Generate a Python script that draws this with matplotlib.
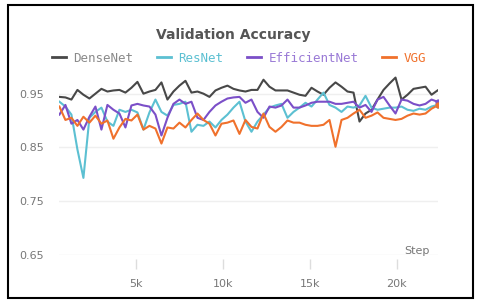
import matplotlib
matplotlib.use('Agg')
import matplotlib.pyplot as plt
import matplotlib.patches as mpatches

COLORS = {
    'DenseNet': '#484848',
    'ResNet': '#5cc0d2',
    'EfficientNet': '#7b4fc8',
    'VGG': '#f0712c',
}
LABEL_COLORS = ['#8a8a8a', '#5cc0d2', '#9a7ad6', '#f0712c']

steps = [600, 945, 1290, 1635, 1980, 2325, 2670, 3015, 3360, 3705, 4050, 4395,
         4740, 5085, 5430, 5775, 6120, 6465, 6810, 7155, 7500, 7845, 8190, 8535,
         8880, 9225, 9570, 9915, 10260, 10605, 10950, 11295, 11640, 11985, 12330,
         12675, 13020, 13365, 13710, 14055, 14400, 14745, 15090, 15435, 15780,
         16125, 16470, 16815, 17160, 17505, 17850, 18195, 18540, 18885, 19230,
         19575, 19920, 20265, 20610, 20955, 21300, 21645, 21990, 22335]

densenet = [0.944, 0.943, 0.939, 0.957, 0.948, 0.941, 0.950, 0.959, 0.954, 0.956,
            0.957, 0.952, 0.961, 0.972, 0.950, 0.954, 0.957, 0.971, 0.939, 0.954,
            0.965, 0.974, 0.952, 0.954, 0.950, 0.944, 0.956, 0.961, 0.965, 0.959,
            0.956, 0.954, 0.957, 0.957, 0.976, 0.963, 0.956, 0.956, 0.956, 0.952,
            0.948, 0.946, 0.961, 0.954, 0.948, 0.961, 0.971, 0.963, 0.954, 0.952,
            0.898, 0.913, 0.920, 0.939, 0.957, 0.969, 0.980, 0.939, 0.948, 0.959,
            0.961, 0.963, 0.948, 0.956]

resnet = [0.935, 0.926, 0.911, 0.846, 0.793, 0.905, 0.916, 0.924, 0.898, 0.890,
          0.920, 0.916, 0.920, 0.915, 0.883, 0.915, 0.939, 0.916, 0.909, 0.929,
          0.931, 0.935, 0.879, 0.892, 0.890, 0.898, 0.887, 0.901, 0.911, 0.924,
          0.935, 0.898, 0.879, 0.898, 0.911, 0.924, 0.928, 0.931, 0.905, 0.916,
          0.924, 0.933, 0.926, 0.939, 0.952, 0.929, 0.924, 0.916, 0.926, 0.924,
          0.928, 0.946, 0.924, 0.920, 0.922, 0.924, 0.924, 0.926, 0.920, 0.918,
          0.922, 0.920, 0.926, 0.929]

efficientnet = [0.911, 0.929, 0.894, 0.901, 0.883, 0.907, 0.926, 0.883, 0.929, 0.920,
                0.913, 0.887, 0.928, 0.931, 0.928, 0.926, 0.911, 0.872, 0.905, 0.931,
                0.939, 0.931, 0.935, 0.905, 0.901, 0.916, 0.928, 0.935, 0.941, 0.943,
                0.944, 0.933, 0.939, 0.916, 0.905, 0.926, 0.924, 0.928, 0.939, 0.924,
                0.924, 0.928, 0.933, 0.935, 0.935, 0.935, 0.931, 0.931, 0.933, 0.935,
                0.924, 0.929, 0.916, 0.939, 0.944, 0.928, 0.913, 0.939, 0.937, 0.931,
                0.928, 0.931, 0.939, 0.935]

vgg = [0.926, 0.901, 0.905, 0.890, 0.907, 0.896, 0.909, 0.894, 0.900, 0.866,
       0.887, 0.903, 0.900, 0.911, 0.883, 0.890, 0.885, 0.857, 0.887, 0.885,
       0.896, 0.887, 0.901, 0.913, 0.901, 0.894, 0.872, 0.894, 0.896, 0.900,
       0.875, 0.901, 0.888, 0.885, 0.913, 0.888, 0.879, 0.888, 0.900, 0.896,
       0.896, 0.892, 0.890, 0.890, 0.892, 0.901, 0.851, 0.901, 0.905, 0.913,
       0.920, 0.905, 0.909, 0.915, 0.905, 0.903, 0.901, 0.903, 0.909, 0.913,
       0.911, 0.913, 0.922, 0.928]

x_ticks = [5000, 10000, 15000, 20000]
x_tick_labels = ['5k', '10k', '15k', '20k']
y_ticks = [0.65, 0.75, 0.85, 0.95]
y_tick_labels = ['0.65', '0.75', '0.85', '0.95']

series = [('DenseNet', densenet), ('ResNet', resnet),
          ('EfficientNet', efficientnet), ('VGG', vgg)]

fig = plt.figure(figsize=(4.8, 3.06), dpi=100, facecolor='white')
ax = fig.add_axes([0.1237, 0.168, 0.788, 0.596])

for name, vals in series:
    ax.plot(steps, vals, color=COLORS[name], linewidth=1.5, label=name, zorder=3)
    if name != 'DenseNet':
        ax.plot(steps[-1], vals[-1], 'o', color=COLORS[name], markersize=3.5, zorder=4)

ax.set_xlim(598, 22340)
ax.set_ylim(0.65, 0.99)
ax.set_yticks(y_ticks)
ax.set_yticklabels(y_tick_labels)
ax.set_xticks(x_ticks)
ax.set_xticklabels(x_tick_labels)
ax.grid(axis='y', color='#efefef', linewidth=1, zorder=0)
for s in ['top', 'right', 'left', 'bottom']:
    ax.spines[s].set_visible(False)
ax.spines['bottom'].set_position(('outward', 3))
ax.tick_params(axis='y', length=0, pad=11, labelsize=8, labelcolor='#777777')
ax.tick_params(axis='x', direction='out', length=7.5, width=1, color='#dddddd',
               pad=7, labelsize=8, labelcolor='#777777')

ax.text(21150, 0.657, 'Step', ha='center', va='center', fontsize=8, color='#777777')

fig.text(0.486, 0.884, 'Validation Accuracy', ha='center', va='center',
         fontsize=10, fontweight='bold', color='#555555')

leg = ax.legend(loc='center', bbox_to_anchor=(0.475, 1.077), ncol=4, frameon=False,
                handlelength=1.1, handletextpad=0.6, columnspacing=1.9,
                prop={'family': 'DejaVu Sans Mono', 'size': 9},
                labelcolor=LABEL_COLORS)
for h in leg.get_lines():
    h.set_linewidth(2)

fig.patches.append(mpatches.Rectangle((8 / 480, 8 / 306), 465 / 480, 293 / 306,
                                      transform=fig.transFigure, fill=False,
                                      edgecolor='black', linewidth=1.5))

fig.savefig('out.png', dpi=100)
